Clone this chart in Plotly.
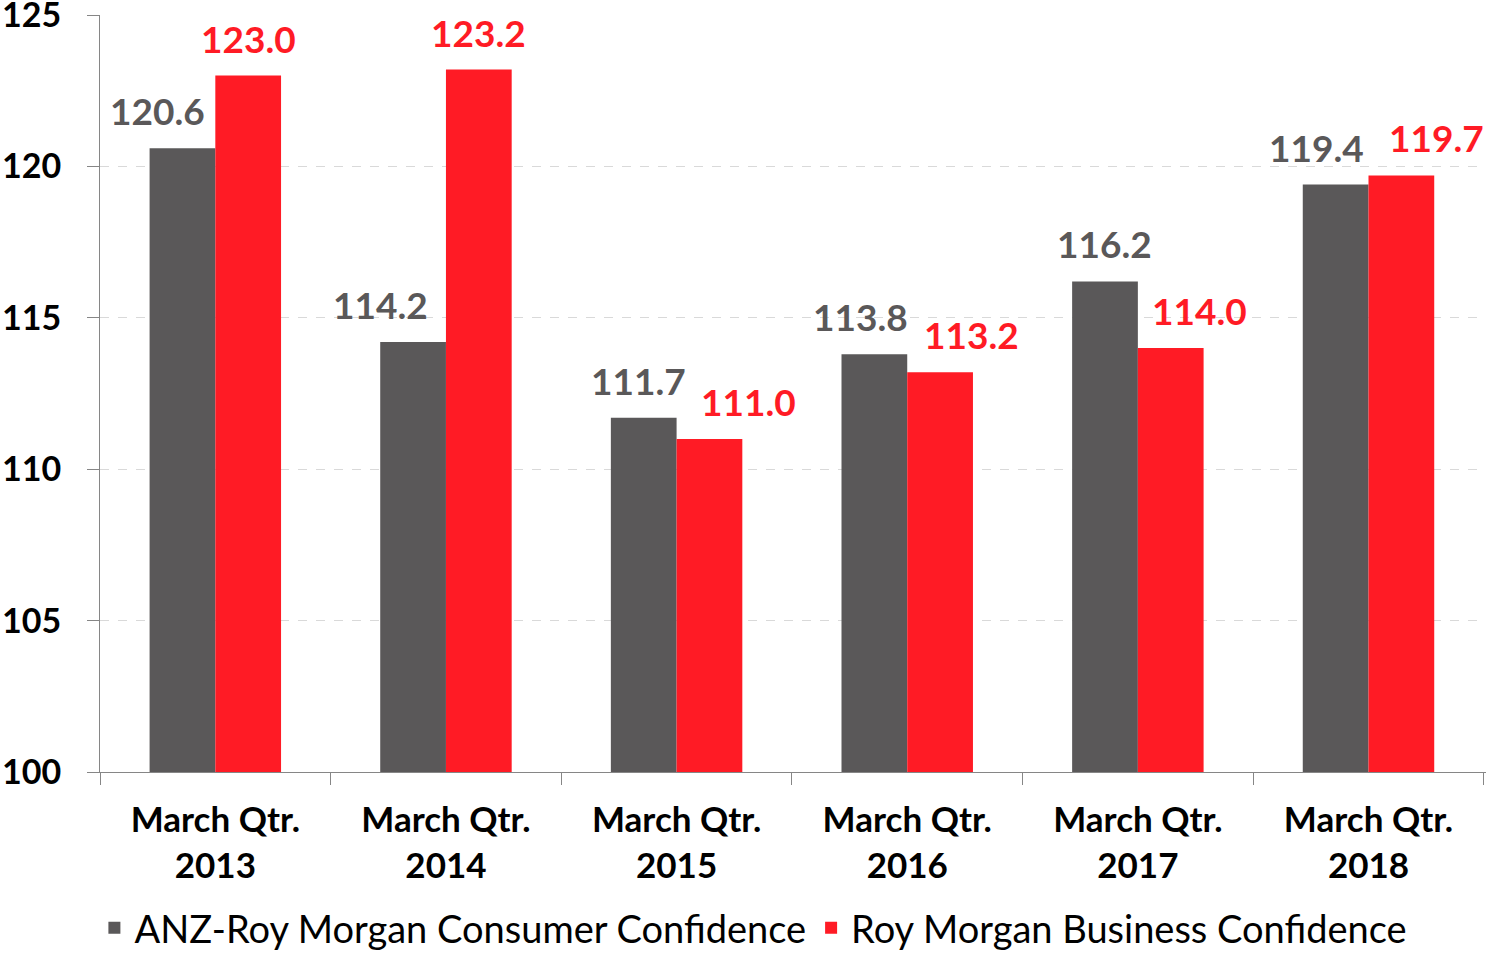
import plotly.graph_objects as go

categories = ["March Qtr.<br>2013", "March Qtr.<br>2014", "March Qtr.<br>2015",
              "March Qtr.<br>2016", "March Qtr.<br>2017", "March Qtr.<br>2018"]
consumer = [120.6, 114.2, 111.7, 113.8, 116.2, 119.4]
business = [123.0, 123.2, 111.0, 113.2, 114.0, 119.7]
series_names = ["ANZ-Roy Morgan Consumer Confidence", "Roy Morgan Business Confidence"]

GREY = "#5A5859"
RED = "#FF1B25"
FONT = "Lato"

# label nudges (px) so the value labels sit like the original
consumer_shift = [-25, -32, -5, -14, 0, -19]
business_shift = [0, 0, 39, 31, 29, 35]

fig = go.Figure()
fig.add_trace(go.Bar(x=categories, y=consumer, name=series_names[0],
                     marker_color=GREY, marker_line_width=0))
fig.add_trace(go.Bar(x=categories, y=business, name=series_names[1],
                     marker_color=RED, marker_line_width=0))

# data labels
bar_half = 33
for i, cat in enumerate(categories):
    fig.add_annotation(x=cat, y=consumer[i], text=f"{consumer[i]:.1f}",
                       xref="x", yref="y", yanchor="bottom", showarrow=False,
                       xshift=-bar_half + consumer_shift[i], yshift=13,
                       font=dict(family=FONT, size=37, color=GREY, weight="bold"))
    fig.add_annotation(x=cat, y=business[i], text=f"{business[i]:.1f}",
                       xref="x", yref="y", yanchor="bottom", showarrow=False,
                       xshift=bar_half + business_shift[i], yshift=13,
                       font=dict(family=FONT, size=37, color=RED, weight="bold"))

fig.update_layout(
    width=1486, height=953,
    margin=dict(l=100, r=0, t=15, b=181, autoexpand=False),
    paper_bgcolor="white", plot_bgcolor="white",
    barmode="group", bargap=0.43, bargroupgap=0,
    font=dict(family=FONT, color="black"),
    showlegend=True,
    legend=dict(orientation="h", x=0.507, xanchor="center", xref="container",
                y=25 / 953, yanchor="middle", yref="container",
                font=dict(family=FONT, size=38, color="black"),
                itemwidth=30, tracegroupgap=0),
)
fig.update_xaxes(
    showline=True, linecolor="#868686", linewidth=1,
    ticks="outside", ticklen=12, tickcolor="#868686",
    tickson="boundaries", showgrid=False, automargin=False,
    ticklabelstandoff=17,
    tickfont=dict(family=FONT, size=35, color="black", weight="bold"),
)
fig.update_yaxes(
    range=[100, 125.0001], tickvals=[100, 105, 110, 115, 120, 125],
    showline=True, linecolor="#868686", linewidth=1,
    ticks="outside", ticklen=12, tickcolor="#868686",
    showgrid=True, gridcolor="#D9D9D9", griddash="dash", gridwidth=1,
    zeroline=False, ticklabelstandoff=19, automargin=False,
    ticklabeloverflow="allow",
    tickfont=dict(family=FONT, size=34, color="black", weight="bold"),
)

# drop the default 8px page margin so the chart fills the window
fig.write_html("out.html", config={"displayModeBar": False},
               post_script="document.body.style.margin = '0';")
